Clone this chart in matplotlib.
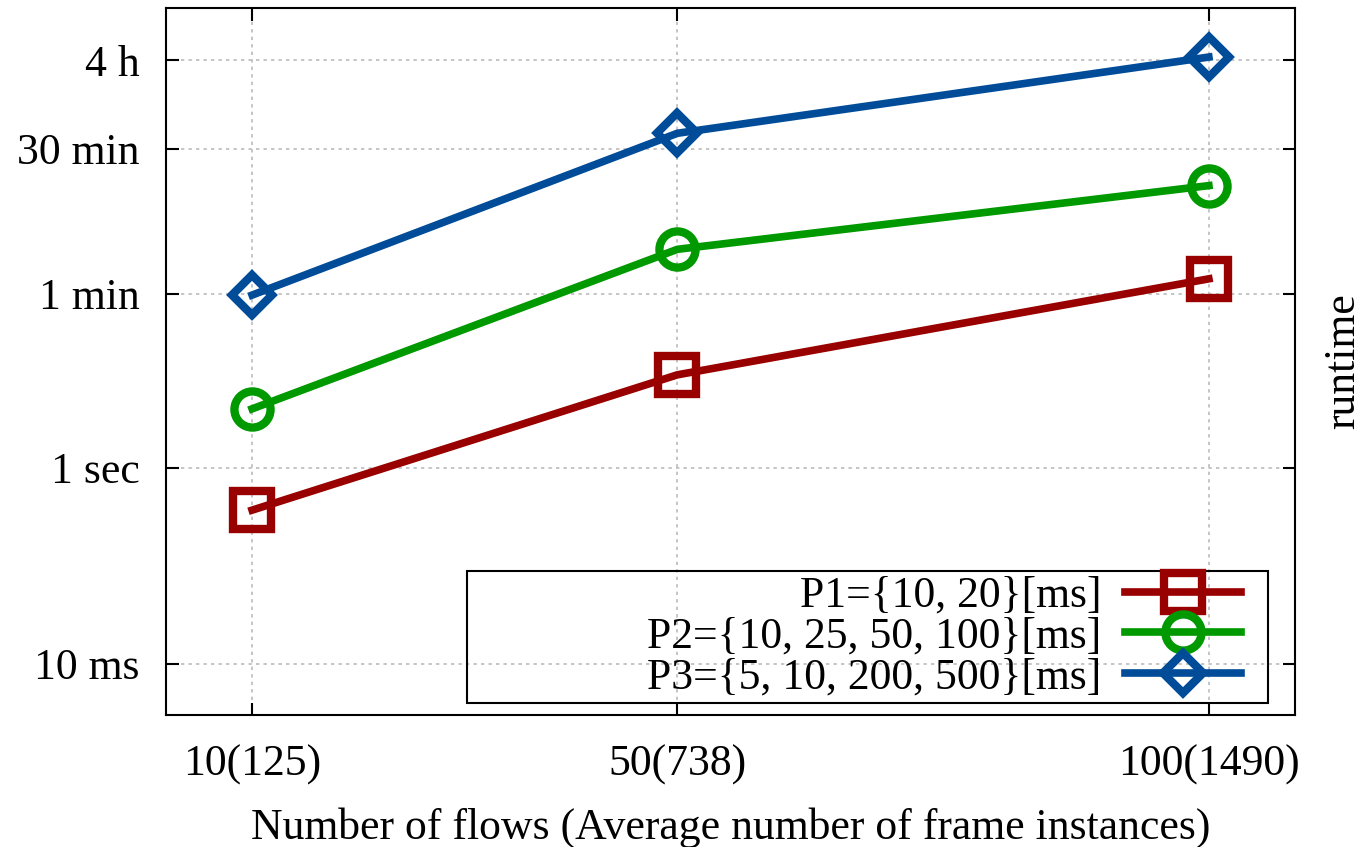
import matplotlib
matplotlib.use("Agg")
import matplotlib.pyplot as plt
from matplotlib.patches import Rectangle

# number of flows on x, runtime in seconds on y
flows = [10, 50, 100]
xlabels = ["10(125)", "50(738)", "100(1490)"]
p1 = [0.37, 8.9, 85]
p2 = [4.0, 170, 760]
p3 = [58, 2600, 15600]
names = ["P1={10, 20}[ms]", "P2={10, 25, 50, 100}[ms]", "P3={5, 10, 200, 500}[ms]"]
colors = ["#990000", "#009900", "#004c99"]
markers = ["s", "o", "D"]
msizes = [27, 26, 20]
yticks = [0.01, 1, 60, 1800, 14400]
ylabels = ["10 ms", "1 sec", "1 min", "30 min", "4 h"]

plt.rcParams["font.family"] = ["Liberation Serif", "DejaVu Serif"]
plt.rcParams["font.size"] = 31.5

fig = plt.figure(figsize=(13.61, 8.47), dpi=100)
ax = fig.add_axes([166/1361, 132/847, 1129/1361, 707/847])

for ys, name, c, m, ms in zip([p1, p2, p3], names, colors, markers, msizes):
    ax.plot(flows, ys, color=c, lw=5.5, marker=m, ms=ms, mfc="none",
            mec=c, mew=6, label=name)

ax.set_yscale("log")
ax.set_xlim(1.9, 108.1)
ax.set_ylim(0.003, 49400)
ax.set_xticks(flows)
ax.set_xticklabels(xlabels)
ax.set_yticks(yticks)
ax.set_yticklabels(ylabels)
ax.minorticks_off()
ax.tick_params(direction="in", length=9, width=1.5, top=True, right=True, pad=19)
ax.tick_params(axis="x", pad=21)
ax.grid(True, color="#bbbbbb", ls=(0, (2, 2.5)), lw=1.2)
for s in ax.spines.values():
    s.set_linewidth(1.5)

ax.set_xlabel("Number of flows (Average number of frame instances)", labelpad=16)
ax.yaxis.set_label_position("right")
ax.set_ylabel("runtime", labelpad=20)

# legend box is wider than its content, like gnuplot's
ax.add_patch(Rectangle((0.267, 0.017), 0.709, 0.187, transform=ax.transAxes,
                       fill=False, ec="black", lw=1.5, zorder=5))
ax.legend(loc="lower right", bbox_to_anchor=(0.964, 0.006), markerfirst=False,
          frameon=False, handlelength=2.65, handletextpad=0.55, labelspacing=0.02,
          borderaxespad=0, borderpad=0.3)

fig.savefig("out.png", dpi=100)
